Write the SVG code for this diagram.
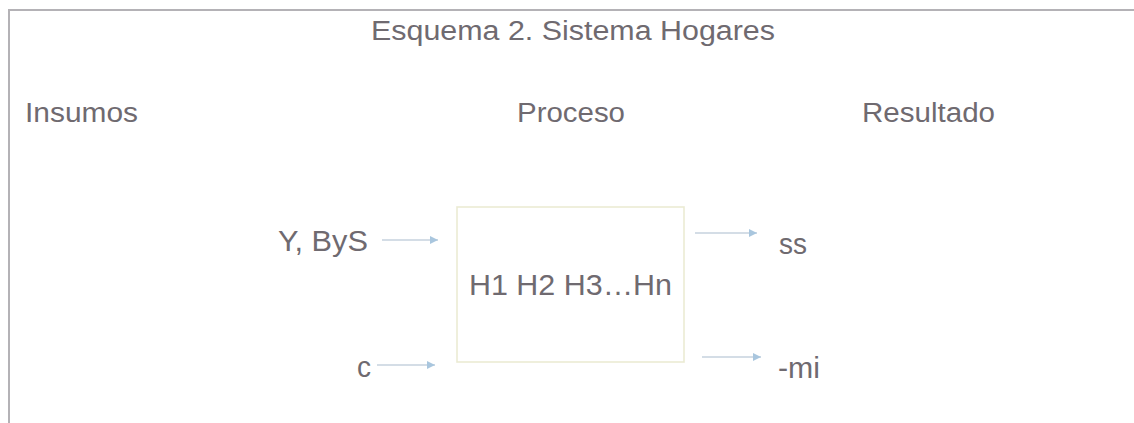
<svg xmlns="http://www.w3.org/2000/svg" width="1134" height="423" viewBox="0 0 1134 423">
<style>
  .t { font-family: "Liberation Sans", Arial, sans-serif; fill: #6f6a70; }
  .h { font-size: 27px; }
  .n { font-size: 29px; }
  .frame { stroke: #b4b2b6; stroke-width: 2; fill: none; }
  .box { fill: #ffffff; stroke: #ebebd4; stroke-width: 1.6; }
  .conn { stroke: #c6d2de; stroke-width: 1.6; fill: none; marker-end: url(#arr); }
</style>
<defs>
  <marker id="arr" viewBox="0 0 10 10" refX="10" refY="5" markerWidth="12" markerHeight="8" markerUnits="userSpaceOnUse" orient="auto">
    <path d="M0,0 L10,5 L0,10 z" fill="#a9c6de"/>
  </marker>
</defs>
<rect width="1134" height="423" fill="#ffffff"/>
<path class="frame" d="M9,423 V10 H1134"/>
<g id="title"><text class="t h" x="371" y="40" textLength="404" lengthAdjust="spacingAndGlyphs">Esquema 2. Sistema Hogares</text></g>
<g id="insumos"><text class="t h" x="25" y="122" textLength="113" lengthAdjust="spacingAndGlyphs">Insumos</text></g>
<g id="proceso"><text class="t h" x="517" y="122" textLength="108" lengthAdjust="spacingAndGlyphs">Proceso</text></g>
<g id="resultado"><text class="t h" x="862" y="122" textLength="133" lengthAdjust="spacingAndGlyphs">Resultado</text></g>
<g id="in-ybys"><text class="t n" x="278" y="251" textLength="90" lengthAdjust="spacingAndGlyphs">Y, ByS</text></g>
<g id="in-c"><text class="t n" x="357" y="377" textLength="14" lengthAdjust="spacingAndGlyphs">c</text></g>
<g id="hogares">
  <rect class="box" x="457" y="207" width="227" height="155"/>
  <text class="t n" x="469" y="295" textLength="203" lengthAdjust="spacingAndGlyphs">H1 H2 H3…Hn</text>
</g>
<g id="out-ss"><text class="t n" x="779" y="254" textLength="28" lengthAdjust="spacingAndGlyphs">ss</text></g>
<g id="out-mi"><text class="t n" x="778" y="378" textLength="42" lengthAdjust="spacingAndGlyphs">-mi</text></g>
<g id="connectors">
  <line class="conn" x1="382" y1="240" x2="438" y2="240"/>
  <line class="conn" x1="377" y1="365" x2="435" y2="365"/>
  <line class="conn" x1="695" y1="233" x2="757" y2="233"/>
  <line class="conn" x1="702" y1="357" x2="761" y2="357"/>
</g>
</svg>
